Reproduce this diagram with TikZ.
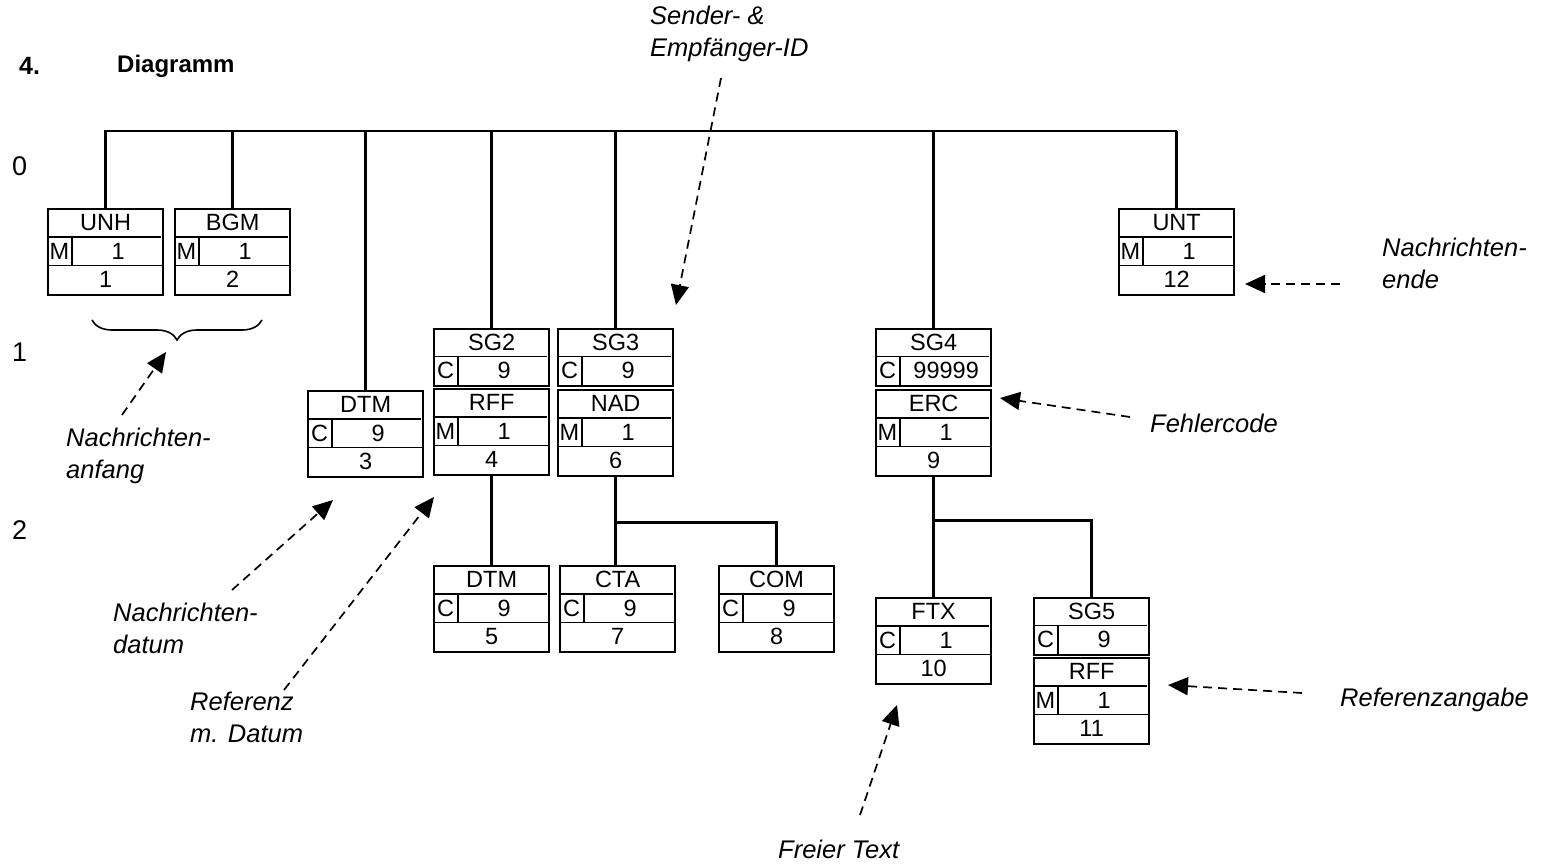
\documentclass[tikz,border=0pt]{standalone}
\usepackage{fontspec}
\setmainfont{Liberation Sans}
\usetikzlibrary{arrows.meta,decorations.pathreplacing}

\tikzset{
  segframe/.style={draw, line width=2.3pt, inner sep=0pt, minimum width=115pt, anchor=north west},
  segline/.style={line width=1.8pt},
  segtext/.style={font=\fontsize{23.5}{27}\selectfont, inner sep=0pt},
  tree/.style={line width=2.8pt},
  note/.style={font=\fontsize{25.5}{32}\selectfont\itshape, align=left, anchor=west, inner sep=0pt},
  hint/.style={dash pattern=on 9pt off 6pt, line width=1.7pt, -{Triangle[length=20pt,width=18pt]}}
}

% segment box: name, x, y, tag, status, repeat, position
\newcommand{\segbox}[7]{%
  \node[segframe, minimum height=86pt] (#1) at (#2,#3) {};
  \draw[segline] ([yshift=-28.7pt]#1.north west) -- ([xshift=-3pt,yshift=-28.7pt]#1.north east);
  \draw[segline] ([yshift=-57.4pt]#1.north west) -- ([yshift=-57.4pt]#1.north east);
  \draw[segline] ([xshift=25pt,yshift=-28.7pt]#1.north west) -- ([xshift=25pt,yshift=-57.4pt]#1.north west);
  \node[segtext] at ([yshift=-14.4pt]#1.north) {#4};
  \node[segtext] at ([xshift=12.5pt,yshift=-43pt]#1.north west) {#5};
  \node[segtext] at ([xshift=12.5pt,yshift=-43pt]#1.north) {#6};
  \node[segtext] at ([yshift=-71.7pt]#1.north) {#7};
}
% group box: name, x, y, tag, status, repeat
\newcommand{\grpbox}[6]{%
  \node[segframe, minimum height=57pt] (#1) at (#2,#3) {};
  \draw[segline] ([yshift=-28.5pt]#1.north west) -- ([xshift=-3pt,yshift=-28.5pt]#1.north east);
  \draw[segline] ([xshift=25pt,yshift=-28.5pt]#1.north west) -- ([xshift=25pt]#1.south west);
  \node[segtext] at ([yshift=-14.3pt]#1.north) {#4};
  \node[segtext] at ([xshift=12.5pt,yshift=-42.8pt]#1.north west) {#5};
  \node[segtext] at ([xshift=12.5pt,yshift=-42.8pt]#1.north) {#6};
}

\begin{document}
\begin{tikzpicture}[x=1pt,y=-1pt]
\useasboundingbox (0,0) rectangle (1542,864);

% heading and levels
\node[segtext, font=\fontsize{25}{28}\selectfont\bfseries, anchor=west] (num) at (19,66) {4.};
\node[segtext, font=\fontsize{24}{28}\selectfont\bfseries, anchor=west] (title) at (117,66) {Diagramm};
\node[segtext, font=\fontsize{27}{30}\selectfont, anchor=west] (lvl0) at (12,166) {0};
\node[segtext, font=\fontsize{27}{30}\selectfont, anchor=west] (lvl1) at (12,352) {1};
\node[segtext, font=\fontsize{27}{30}\selectfont, anchor=west] (lvl2) at (12,530) {2};

% boxes
\segbox{UNH}{47}{208}{UNH}{M}{1}{1}
\segbox{BGM}{174}{208}{BGM}{M}{1}{2}
\segbox{DTMa}{307}{390}{DTM}{C}{9}{3}
\grpbox{SGb}{433}{328}{SG2}{C}{9}
\segbox{RFFa}{433}{388}{RFF}{M}{1}{4}
\grpbox{SGc}{557}{328}{SG3}{C}{9}
\segbox{NAD}{557}{389}{NAD}{M}{1}{6}
\grpbox{SGd}{875}{328}{SG4}{C}{99999}
\segbox{ERC}{875}{389}{ERC}{M}{1}{9}
\segbox{UNT}{1118}{208}{UNT}{M}{1}{12}
\segbox{DTMb}{433}{565}{DTM}{C}{9}{5}
\segbox{CTA}{559}{565}{CTA}{C}{9}{7}
\segbox{COM}{718}{565}{COM}{C}{9}{8}
\segbox{FTX}{875}{597}{FTX}{C}{1}{10}
\grpbox{SGe}{1033}{597}{SG5}{C}{9}
\segbox{RFFb}{1033}{657}{RFF}{M}{1}{11}

% tree
\coordinate (barL) at (104,131);
\draw[tree] (barL) -- (barL -| UNT.north);
\foreach \n in {UNH,BGM,DTMa,SGb,SGc,SGd,UNT}
  \draw[tree] (\n.north) -- (\n.north |- barL);
\draw[tree] (RFFa.south) -- (DTMb.north);
\draw[tree] (NAD.south) -- (NAD.south |- CTA.north);
\draw[tree] ([yshift=-45pt]NAD.south) -| (COM.north);
\draw[tree] (ERC.south) -- (ERC.south |- FTX.north);
\draw[tree] ([yshift=-43pt]ERC.south) -| (SGe.north);

% brace
\coordinate (braceL) at (92,320);
\coordinate (braceR) at (262,320);
\draw[decorate, decoration={brace, mirror, amplitude=20pt}, line width=1.6pt] (braceL) -- (braceR);

% notes
\node[note] (sender) at (650,34) {Sender- \&\\Empfänger-ID};
\node[note] (anfang) at (66,456) {Nachrichten-\\anfang};
\node[note] (ende) at (1382,263) {Nachrichten-\\ende};
\node[note] (fehler) at (1150,423) {Fehlercode};
\node[note] (datum) at (113,628) {Nachrichten-\\datum};
\node[note] (referenz) at (190,717) {Referenz\\m. Datum};
\node[note] (freitext) at (778,849) {Freier Text};
\node[note] (refangabe) at (1340,700) {Referenzangabe};

% pointers
\coordinate (senderT) at (721,78);  \coordinate (senderH) at (676,305);
\coordinate (anfangT) at (122,415); \coordinate (anfangH) at (166,352);
\coordinate (endeT) at (1340,284);  \coordinate (endeH) at (1245,284);
\coordinate (fehlerT) at (1130,417); \coordinate (fehlerH) at (1000,398);
\coordinate (datumT) at (232,590);  \coordinate (datumH) at (333,500);
\coordinate (referenzT) at (284,690); \coordinate (referenzH) at (434,497);
\coordinate (freitextT) at (860,815); \coordinate (freitextH) at (897,705);
\coordinate (refangabeT) at (1302,693); \coordinate (refangabeH) at (1168,685);
\foreach \p in {sender,anfang,ende,fehler,datum,referenz,freitext,refangabe}
  \draw[hint] (\p T) -- (\p H);
\end{tikzpicture}
\end{document}
